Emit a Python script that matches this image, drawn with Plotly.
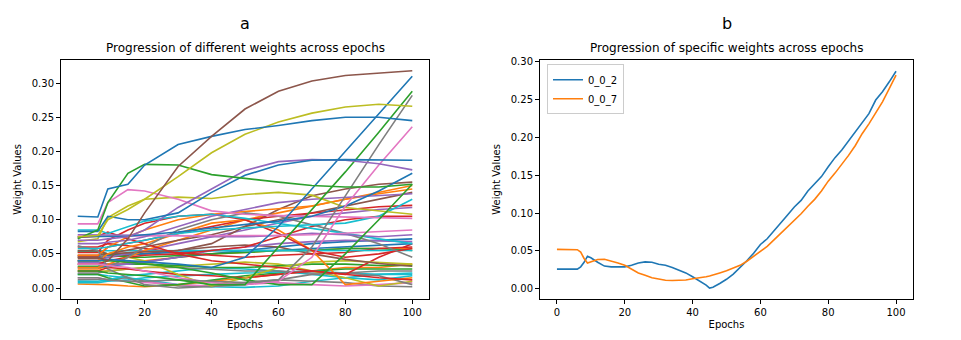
import plotly.graph_objects as go

# ---- panel a: many weights, sampled at these epochs ----
EPOCHS_A = [0, 6, 9, 15, 20, 30, 40, 50, 60, 70, 80, 90, 100]

brown1 = [0.045, 0.045, 0.040, 0.072, 0.110, 0.178, 0.222, 0.262, 0.288, 0.303, 0.311, 0.315, 0.318]
blue1 = [0.105, 0.104, 0.145, 0.152, 0.180, 0.210, 0.222, 0.232, 0.238, 0.245, 0.250, 0.250, 0.245]
green1 = [0.072, 0.085, 0.125, 0.168, 0.181, 0.180, 0.166, 0.160, 0.155, 0.150, 0.148, 0.148, 0.152]
olive1 = [0.075, 0.077, 0.100, 0.115, 0.130, 0.163, 0.198, 0.225, 0.243, 0.256, 0.265, 0.269, 0.266]
olive2 = [0.068, 0.072, 0.103, 0.120, 0.130, 0.133, 0.131, 0.137, 0.140, 0.136, 0.118, 0.113, 0.108]
pink1 = [0.094, 0.094, 0.125, 0.144, 0.142, 0.130, 0.113, 0.108, 0.106, 0.105, 0.104, 0.103, 0.102]
blue2 = [0.083, 0.083, 0.105, 0.100, 0.100, 0.110, 0.140, 0.165, 0.180, 0.187, 0.188, 0.188, 0.187]
purple1 = [0.070, 0.070, 0.072, 0.075, 0.085, 0.118, 0.145, 0.172, 0.185, 0.188, 0.187, 0.182, 0.173]
blue3 = [0.075, 0.075, 0.075, 0.076, 0.078, 0.082, 0.088, 0.093, 0.098, 0.105, 0.120, 0.142, 0.168]
blue4 = [0.040, 0.040, 0.042, 0.040, 0.038, 0.035, 0.030, 0.045, 0.090, 0.145, 0.200, 0.255, 0.310]
green2 = [0.025, 0.025, 0.022, 0.020, 0.018, 0.012, 0.005, 0.005, 0.060, 0.115, 0.170, 0.228, 0.288]
gray1 = [0.015, 0.015, 0.012, 0.010, 0.010, 0.012, 0.010, 0.008, 0.012, 0.060, 0.135, 0.210, 0.282]
pink2 = [0.035, 0.035, 0.033, 0.030, 0.025, 0.015, 0.008, 0.005, 0.010, 0.045, 0.120, 0.180, 0.236]
green3 = [0.040, 0.040, 0.040, 0.038, 0.035, 0.030, 0.022, 0.012, 0.005, 0.005, 0.050, 0.100, 0.152]
red1 = [0.074, 0.076, 0.082, 0.072, 0.065, 0.050, 0.040, 0.035, 0.030, 0.025, 0.020, 0.015, 0.012]
red2 = [0.047, 0.047, 0.060, 0.065, 0.070, 0.080, 0.090, 0.100, 0.105, 0.110, 0.115, 0.119, 0.121]
red3 = [0.052, 0.052, 0.070, 0.085, 0.095, 0.105, 0.108, 0.100, 0.080, 0.055, 0.045, 0.050, 0.058]
red4 = [0.035, 0.035, 0.040, 0.045, 0.048, 0.050, 0.055, 0.060, 0.075, 0.090, 0.100, 0.105, 0.105]
red5 = [0.025, 0.025, 0.030, 0.028, 0.025, 0.020, 0.018, 0.015, 0.020, 0.025, 0.020, 0.045, 0.065]
red6 = [0.060, 0.060, 0.065, 0.062, 0.058, 0.052, 0.048, 0.045, 0.048, 0.050, 0.052, 0.058, 0.060]
cyan1 = [0.0545, 0.0545, 0.0545, 0.055, 0.055, 0.055, 0.055, 0.055, 0.055, 0.055, 0.055, 0.055, 0.055]
cyan2 = [0.058, 0.058, 0.060, 0.065, 0.070, 0.080, 0.085, 0.088, 0.090, 0.092, 0.095, 0.105, 0.130]
cyan3 = [0.085, 0.085, 0.080, 0.090, 0.098, 0.105, 0.108, 0.102, 0.095, 0.088, 0.080, 0.072, 0.065]
cyan4 = [0.020, 0.020, 0.018, 0.015, 0.012, 0.005, 0.002, 0.001, 0.003, 0.010, 0.015, 0.012, 0.018]
cyan5 = [0.010, 0.010, 0.012, 0.018, 0.020, 0.025, 0.030, 0.028, 0.025, 0.020, 0.015, 0.020, 0.022]
cyan6 = [0.008, 0.008, 0.010, 0.012, 0.015, 0.018, 0.020, 0.022, 0.023, 0.025, 0.022, 0.020, 0.020]
orange1 = [0.048, 0.048, 0.060, 0.075, 0.085, 0.100, 0.108, 0.112, 0.115, 0.120, 0.130, 0.140, 0.150]
orange2 = [0.040, 0.040, 0.050, 0.060, 0.065, 0.080, 0.095, 0.100, 0.085, 0.055, 0.005, 0.010, 0.015]
orange3 = [0.006, 0.006, 0.005, 0.003, 0.002, 0.005, 0.010, 0.015, 0.020, 0.025, 0.030, 0.030, 0.035]
orange4 = [0.028, 0.028, 0.032, 0.038, 0.040, 0.045, 0.050, 0.052, 0.055, 0.055, 0.058, 0.058, 0.058]
orange5 = [0.030, 0.030, 0.035, 0.045, 0.055, 0.070, 0.085, 0.100, 0.110, 0.120, 0.130, 0.138, 0.145]
purple2 = [0.065, 0.065, 0.067, 0.070, 0.075, 0.090, 0.105, 0.115, 0.125, 0.130, 0.133, 0.135, 0.138]
purple3 = [0.078, 0.078, 0.078, 0.078, 0.077, 0.077, 0.075, 0.075, 0.077, 0.080, 0.078, 0.075, 0.078]
purple4 = [0.040, 0.040, 0.045, 0.050, 0.055, 0.065, 0.075, 0.085, 0.095, 0.105, 0.110, 0.115, 0.118]
purple5 = [0.038, 0.038, 0.035, 0.035, 0.038, 0.045, 0.055, 0.060, 0.065, 0.068, 0.070, 0.069, 0.068]
gray2 = [0.062, 0.055, 0.030, 0.045, 0.060, 0.085, 0.100, 0.110, 0.105, 0.092, 0.080, 0.065, 0.045]
gray3 = [0.012, 0.012, 0.013, 0.015, 0.010, 0.003, 0.002, 0.008, 0.012, 0.010, 0.008, 0.003, 0.002]
gray4 = [0.022, 0.022, 0.025, 0.028, 0.030, 0.030, 0.028, 0.025, 0.025, 0.022, 0.022, 0.025, 0.025]
gray5 = [0.035, 0.035, 0.028, 0.015, 0.005, 0.000, 0.002, 0.005, 0.012, 0.020, 0.022, 0.018, 0.005]
brown2 = [0.048, 0.048, 0.050, 0.052, 0.053, 0.055, 0.065, 0.090, 0.115, 0.135, 0.145, 0.152, 0.155]
brown3 = [0.043, 0.043, 0.045, 0.048, 0.050, 0.055, 0.060, 0.063, 0.060, 0.050, 0.042, 0.036, 0.032]
brown4 = [0.055, 0.055, 0.050, 0.055, 0.060, 0.070, 0.078, 0.090, 0.100, 0.110, 0.120, 0.130, 0.140]
green4 = [0.053, 0.053, 0.050, 0.045, 0.045, 0.048, 0.050, 0.052, 0.055, 0.055, 0.058, 0.058, 0.055]
green5 = [0.020, 0.020, 0.015, 0.008, 0.003, 0.005, 0.012, 0.018, 0.022, 0.025, 0.028, 0.028, 0.028]
green6 = [0.032, 0.032, 0.035, 0.035, 0.035, 0.033, 0.030, 0.030, 0.032, 0.035, 0.035, 0.033, 0.033]
olive3 = [0.045, 0.045, 0.048, 0.045, 0.040, 0.020, 0.003, 0.015, 0.030, 0.038, 0.040, 0.038, 0.035]
olive4 = [0.025, 0.025, 0.025, 0.028, 0.030, 0.032, 0.035, 0.038, 0.035, 0.025, 0.015, 0.003, 0.010]
pink3 = [0.076, 0.076, 0.076, 0.076, 0.076, 0.076, 0.076, 0.076, 0.077, 0.078, 0.080, 0.083, 0.085]
pink4 = [0.015, 0.015, 0.012, 0.010, 0.008, 0.005, 0.003, 0.005, 0.008, 0.005, 0.003, 0.005, 0.008]
blue5 = [0.030, 0.030, 0.032, 0.035, 0.038, 0.045, 0.050, 0.055, 0.060, 0.065, 0.068, 0.070, 0.072]
blue6 = [0.045, 0.045, 0.048, 0.050, 0.050, 0.052, 0.055, 0.055, 0.055, 0.058, 0.060, 0.062, 0.065]

# ---- panel b: two specific weights ----
EPOCHS_B = [0, 2, 4, 6, 7, 8, 9, 10, 12, 14, 16, 18, 20, 22, 24, 26, 28, 30, 32, 34, 36, 38, 40,
            42, 44, 45, 46, 48, 50, 52, 54, 56, 58, 60, 62, 64, 66, 68, 70, 72, 74, 76, 78, 80,
            82, 84, 86, 88, 90, 92, 94, 96, 98, 100]
w_0_0_2 = [0.026, 0.026, 0.026, 0.026, 0.029, 0.035, 0.043, 0.041, 0.035, 0.030, 0.029, 0.0286,
           0.029, 0.031, 0.034, 0.0355, 0.035, 0.0325, 0.031, 0.028, 0.025, 0.021, 0.016, 0.011,
           0.005, 0.001, 0.002, 0.007, 0.0126, 0.0195, 0.028, 0.037, 0.047, 0.0585, 0.066, 0.077,
           0.0875, 0.0975, 0.108, 0.1166, 0.129, 0.138, 0.148, 0.161, 0.173, 0.183, 0.195, 0.207,
           0.220, 0.231, 0.249, 0.260, 0.273, 0.287]
w_0_0_7 = [0.052, 0.052, 0.052, 0.0516, 0.0485, 0.040, 0.034, 0.0355, 0.0386, 0.039, 0.037, 0.034,
           0.031, 0.0256, 0.021, 0.0178, 0.0147, 0.013, 0.0113, 0.011, 0.011, 0.0117, 0.0134,
           0.0143, 0.016, 0.017, 0.0186, 0.021, 0.0238, 0.027, 0.031, 0.0364, 0.043, 0.050, 0.056,
           0.0646, 0.073, 0.081, 0.0897, 0.099, 0.109, 0.118, 0.129, 0.142, 0.1526, 0.164, 0.176,
           0.189, 0.2046, 0.2176, 0.232, 0.2466, 0.264, 0.2818]

BLUE, ORANGE, GREEN, RED, PURPLE = "#1f77b4", "#ff7f0e", "#2ca02c", "#d62728", "#9467bd"
BROWN, PINK, GRAY, OLIVE, CYAN = "#8c564b", "#e377c2", "#7f7f7f", "#bcbd22", "#17becf"

lines_a = [
    (cyan4, CYAN), (gray3, GRAY), (pink4, PINK), (orange3, ORANGE), (green5, GREEN),
    (cyan5, CYAN), (cyan6, CYAN), (gray4, GRAY), (olive4, OLIVE), (green6, GREEN),
    (gray5, GRAY), (red5, RED), (orange4, ORANGE), (blue5, BLUE), (olive3, OLIVE),
    (brown3, BROWN), (purple5, PURPLE), (blue6, BLUE), (green4, GREEN), (red6, RED),
    (cyan1, CYAN), (red4, RED), (purple4, PURPLE), (orange5, ORANGE), (brown4, BROWN),
    (brown2, BROWN), (red2, RED), (orange1, ORANGE), (orange2, ORANGE), (red1, RED),
    (red3, RED), (gray2, GRAY), (cyan3, CYAN), (cyan2, CYAN), (purple3, PURPLE),
    (pink3, PINK), (purple2, PURPLE), (olive2, OLIVE), (pink1, PINK), (blue3, BLUE),
    (green3, GREEN), (pink2, PINK), (gray1, GRAY), (green2, GREEN), (blue4, BLUE),
    (purple1, PURPLE), (blue2, BLUE), (green1, GREEN), (olive1, OLIVE), (blue1, BLUE),
    (brown1, BROWN),
]

FONT = "DejaVu Sans"
fig = go.Figure()

for vals, col in lines_a:
    fig.add_trace(go.Scatter(x=EPOCHS_A, y=vals, mode="lines", showlegend=False,
                             line=dict(color=col, width=1.6), xaxis="x", yaxis="y"))

fig.add_trace(go.Scatter(x=EPOCHS_B, y=w_0_0_2, mode="lines", name="0_0_2",
                         line=dict(color=BLUE, width=1.6), xaxis="x2", yaxis="y2"))
fig.add_trace(go.Scatter(x=EPOCHS_B, y=w_0_0_7, mode="lines", name="0_0_7",
                         line=dict(color=ORANGE, width=1.6), xaxis="x2", yaxis="y2"))

W, H = 961, 340
ydom = [1 - 298.5 / H, 1 - 56.5 / H]

axis_common = dict(showline=True, linecolor="black", linewidth=1, mirror=True,
                   ticks="outside", ticklen=4, tickwidth=1, tickcolor="black",
                   showgrid=False, zeroline=False,
                   tickfont=dict(family=FONT, size=10, color="black"))


def label(text, xpix, ypix, size):
    return dict(text=text, x=xpix / W, y=1 - ypix / H, xref="paper", yref="paper",
                xanchor="center", yanchor="middle", showarrow=False,
                font=dict(family=FONT, size=size, color="black"))


fig.update_layout(
    width=W, height=H,
    margin=dict(l=0, r=0, t=0, b=0),
    paper_bgcolor="white", plot_bgcolor="white",
    font=dict(family=FONT, size=10, color="black"),
    xaxis=dict(domain=[61 / W, 429 / W], range=[-5, 105], tickvals=[0, 20, 40, 60, 80, 100],
               anchor="y", title=dict(text="Epochs", font=dict(size=10), standoff=4),
               **axis_common),
    yaxis=dict(domain=ydom, range=[-0.016, 0.334], dtick=0.05, tick0=0, tickformat=".2f",
               anchor="x", title=dict(text="Weight Values", font=dict(size=10), standoff=8),
               **axis_common),
    xaxis2=dict(domain=[540 / W, 913 / W], range=[-5, 105], tickvals=[0, 20, 40, 60, 80, 100],
                anchor="y2", title=dict(text="Epochs", font=dict(size=10), standoff=4),
                **axis_common),
    yaxis2=dict(domain=ydom, range=[-0.0134, 0.302], dtick=0.05, tick0=0, tickformat=".2f",
                anchor="x2", title=dict(text="Weight Values", font=dict(size=10), standoff=8),
                **axis_common),
    legend=dict(x=547 / W, y=1 - 61 / H, xanchor="left", yanchor="top",
                bgcolor="rgba(255,255,255,0.8)", bordercolor="#cccccc", borderwidth=1,
                font=dict(family=FONT, size=10), itemwidth=30, tracegroupgap=0),
    annotations=[
        label("a", (61 + 429) / 2, 20, 16),
        label("b", (540 + 913) / 2, 20, 16),
        label("Progression of different weights across epochs", (61 + 429) / 2, 45, 12),
        label("Progression of specific weights across epochs", (540 + 913) / 2, 45, 12),
    ],
)

fig.write_html("out.html", config={"displayModeBar": False},
               post_script="document.body.style.margin='0px';")
